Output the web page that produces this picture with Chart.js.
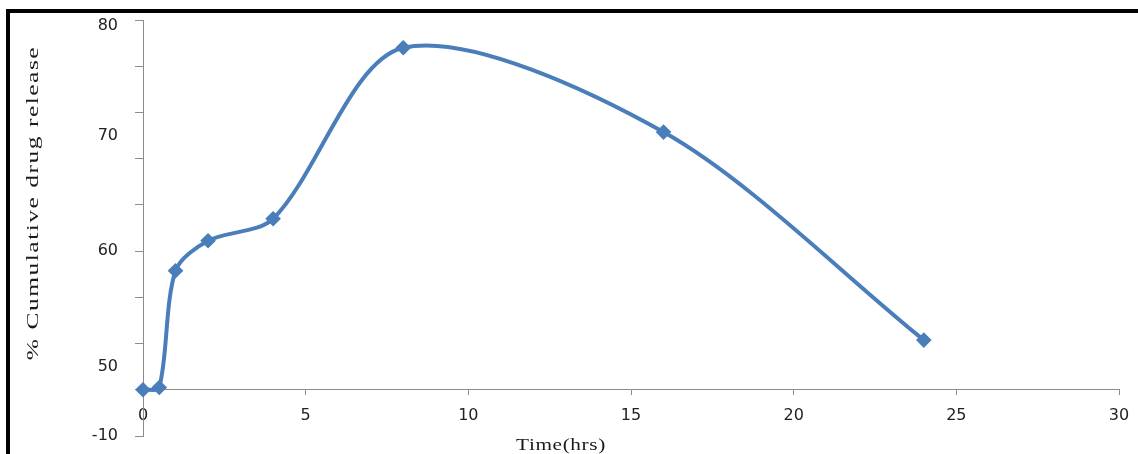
<!DOCTYPE html>
<html>
<head>
<meta charset="utf-8">
<script src="https://cdn.jsdelivr.net/npm/chart.js@4/dist/chart.umd.min.js"></script>
<style>
  html, body { margin:0; padding:0; background:#fff; overflow:hidden; }
  #wrap { position:relative; width:1138px; height:454px; overflow:hidden; }
  #chart { position:absolute; left:0; top:0; }
  .bar { position:absolute; background:#000; }
  #barTop { left:6px; top:9px; width:1132px; height:4px; }
  #barLeft { left:6px; top:9px; width:4px; height:445px; }
  .ttl { position:absolute; white-space:nowrap; color:#1a1a1a;
         font-family:'Liberation Serif', 'Times New Roman', serif; }
  #yTitle { left:33px; top:203px; font-size:17px; letter-spacing:1px;
            transform:translate(-50%,-50%) rotate(-90deg) scaleX(1.5); }
  #xTitle { left:561px; top:445px; font-size:17px; letter-spacing:0.5px;
            transform:translate(-50%,-50%) scaleX(1.25); }
</style>
</head>
<body>
<div id="wrap">
  <canvas id="chart" width="1138" height="454"></canvas>
  <div class="bar" id="barTop"></div>
  <div class="bar" id="barLeft"></div>
  <div class="ttl" id="yTitle">% Cumulative drug release</div>
  <div class="ttl" id="xTitle">Time(hrs)</div>
</div>
<script>
/* global Chart */
// time points (hrs) and % cumulative release
const timeHrs = [0, 0.5, 1, 2, 4, 8, 16, 24];
const release = [48, 48.2, 58.3, 60.9, 62.8, 77.6, 70.3, 52.3];

// y axis: tick marks every 4 units, labels sit at their own values
// (top label is drawn just inside the axis end, as in the original)
const yTickMarks = [44, 48, 52, 56, 60, 64, 68, 72, 76, 80];
const yLabelAt   = [79.5, 70, 60, 50, 44];
const yLabelText = ['80', '70', '60', '50', '-10'];
const xTicks     = [0, 5, 10, 15, 20, 25, 30];

const LINE = '#4a7ebb';
const AXIS = '#8c8c8c';

const yAll = yTickMarks.concat(yLabelAt.filter(v => !yTickMarks.includes(v))).sort((a,b)=>a-b);

new Chart(document.getElementById('chart'), {
  type: 'line',
  data: {
    datasets: [{
      data: timeHrs.map((t, i) => ({ x: t, y: release[i] })),
      borderColor: LINE,
      backgroundColor: LINE,
      borderWidth: 4,
      tension: 0.3,
      pointStyle: 'rectRot',
      pointRadius: 5,
      pointHoverRadius: 5,
      clip: false
    }]
  },
  options: {
    responsive: false,
    animation: false,
    events: [],
    layout: { padding: { left: 0, top: 20, right: 19, bottom: 18 } },
    plugins: { legend: { display: false }, tooltip: { enabled: false } },
    scales: {
      x: {
        type: 'linear',
        position: { y: 48 },
        min: 0, max: 30,
        afterBuildTicks: s => { s.ticks = xTicks.map(v => ({ value: v })); },
        // don't let label overhang push the plot area around
        afterFit: s => { s.paddingLeft = 0; s.paddingRight = 0; },
        border: { display: true, color: AXIS, width: 1 },
        grid: { drawOnChartArea: false, drawTicks: true, tickLength: 5, tickColor: AXIS },
        ticks: {
          autoSkip: false, maxRotation: 0, padding: 11, color: '#222',
          font: { family: 'DejaVu Sans', size: 16 }
        }
      },
      y: {
        min: 44, max: 80,
        afterBuildTicks: s => { s.ticks = yAll.map(v => ({ value: v })); },
        afterFit: s => { s.width = 143; s.paddingTop = 0; s.paddingBottom = 0; },
        border: { display: true, color: AXIS, width: 1 },
        grid: {
          drawOnChartArea: false, drawTicks: true, tickLength: 8,
          tickColor: c => yTickMarks.includes(c.tick.value) ? AXIS : 'rgba(0,0,0,0)'
        },
        ticks: {
          autoSkip: false, padding: 17, color: '#222',
          font: { family: 'DejaVu Sans', size: 16 },
          callback: v => { const i = yLabelAt.indexOf(v); return i >= 0 ? yLabelText[i] : ''; }
        }
      }
    }
  }
});
</script>
</body>
</html>
